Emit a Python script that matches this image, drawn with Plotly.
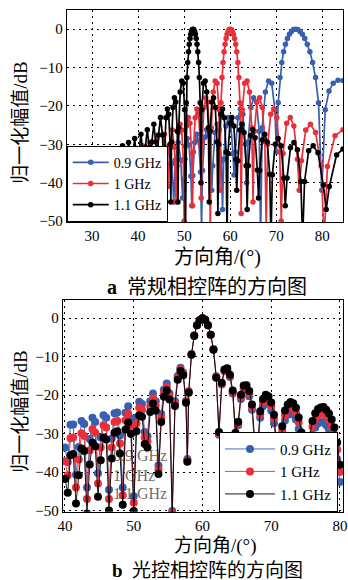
import plotly.graph_objects as go

# ---------------- (a) conventional phased array ----------------
blue_a_deg = [24.65, 25.1, 25.40, 25.68, 26.11, 26.53, 26.81, 27.10, 27.53, 27.96, 28.25, 28.54, 28.98, 29.42, 29.71,
              30.01, 30.45, 30.89, 31.19, 31.49, 31.94, 32.39, 32.69, 32.99, 33.45, 33.91, 34.21, 34.52, 34.99, 35.45,
              35.76, 36.08, 36.56, 37.03, 37.35, 37.67, 38.16, 38.65, 38.97, 39.30, 39.80, 40.29, 40.62, 40.96, 41.48,
              41.99, 42.33, 42.68, 43.20, 43.72, 44.07, 44.43, 44.98, 45.52, 45.88, 46.25, 46.81, 47.36, 47.73, 48.12,
              48.70, 49.28, 49.67, 49.87, 50.27, 50.67, 51.07, 51.47, 51.67, 51.88, 52.30, 52.73, 53.15, 53.57, 53.78,
              54.0, 54.44, 54.89, 55.33, 55.77, 55.99, 56.23, 56.70, 57.17, 57.64, 58.10, 58.34, 58.59, 59.09, 59.60,
              60.10, 60.60, 60.85, 61.12, 61.67, 62.22, 62.76, 63.31, 63.58, 63.88, 64.49, 65.10, 65.70, 66.31, 66.61,
              66.95, 67.64, 68.33, 69.02, 69.71, 70.05, 70.43, 70.82, 71.21, 71.60, 72.0, 72.43, 72.86, 73.30, 73.74,
              74.20, 74.68, 75.17, 75.68, 76.2, 76.74, 77.31, 77.91, 78.54, 79.19, 79.89, 80.64, 81.46, 82.37, 83.42, 84.5]
blue_a_db = [-37.8, -42.2, -50, -42.0, -37.4, -42.0, -50, -41.6, -37.0, -41.6, -50, -41.2, -36.6, -41.2, -50,
             -40.8, -36.2, -40.8, -50, -40.3, -35.7, -40.3, -49, -39.9, -35.3, -39.9, -49, -39.4, -34.8, -39.4,
             -48, -38.9, -34.3, -38.9, -48, -38.4, -33.8, -38.4, -47, -37.8, -33.2, -37.8, -47, -37.2, -32.6,
             -37.2, -46, -36.5, -31.9, -36.5, -46, -35.8, -31.2, -35.8, -45, -35.0, -30.4, -35.0, -45, -34.1,
             -29.5, -34.1, -44, -39.1, -30.5, -28.5, -30.1, -38.3, -46, -38.1, -29.5, -27.4, -29.0, -37.2, -52,
             -36.8, -28.2, -26.2, -27.8, -36.0, -42, -35.6, -26.9, -24.8, -26.3, -34.3, -47, -33.9, -25.2, -23.0,
             -24.5, -32.4, -38, -32.0, -23.1, -20.8, -22.2, -30.0, -40, -29.4, -20.4, -17.9, -19.0, -26.6, -55,
             -25.7, -16.4, -13.5, -14.1, -21.0, -32, -19.2, -12.6, -8.7, -5.9, -3.9, -2.4, -1.3, -0.6, -0.1,
             0, -0.1, -0.6, -1.3, -2.4, -3.9, -5.9, -8.7, -12.6, -19.2, -42, -21.0, -16.1, -14.1, -13.3, -13.4]

red_a_deg = [24.7, 25.0, 25.22, 25.47, 25.86, 26.24, 26.49, 26.75, 27.13, 27.51, 27.77, 28.03, 28.43, 28.82, 29.08,
             29.34, 29.74, 30.14, 30.40, 30.67, 31.07, 31.47, 31.74, 32.01, 32.42, 32.83, 33.10, 33.37, 33.79, 34.20,
             34.47, 34.75, 35.17, 35.59, 35.87, 36.16, 36.59, 37.01, 37.30, 37.59, 38.03, 38.47, 38.76, 39.06, 39.50,
             39.94, 40.24, 40.54, 41.0, 41.46, 41.76, 42.07, 42.54, 43.0, 43.31, 43.63, 44.11, 44.59, 44.91, 45.24,
             45.73, 46.22, 46.55, 46.89, 47.40, 47.91, 48.25, 48.43, 48.78, 49.13, 49.48, 49.83, 50.0, 50.18, 50.55,
             50.91, 51.27, 51.64, 51.82, 52.01, 52.39, 52.77, 53.14, 53.52, 53.71, 53.91, 54.30, 54.70, 55.10, 55.49,
             55.69, 55.90, 56.32, 56.74, 57.15, 57.57, 57.78, 58.0, 58.22, 58.45, 58.67, 58.89, 59.11, 59.33, 59.56,
             59.78, 60.0, 60.24, 60.48, 60.71, 60.95, 61.19, 61.43, 61.67, 61.90, 62.14, 62.38, 62.64, 63.15, 63.67,
             64.19, 64.70, 64.96, 65.25, 65.82, 66.39, 66.96, 67.53, 67.82, 68.15, 68.80, 69.46, 70.11, 70.76, 71.09,
             71.48, 72.26, 73.05, 73.83, 74.61, 75.0, 75.48, 76.41, 77.43, 78.54, 79.75, 80.41, 81.12, 82.77, 84.5]
red_a_db = [-37.4, -43.7, -50, -41.2, -36.6, -41.2, -50, -40.8, -36.2, -40.8, -50, -40.3, -35.7, -40.3, -49,
            -39.9, -35.3, -39.9, -49, -39.4, -34.8, -39.4, -48, -38.9, -34.3, -38.9, -48, -38.4, -33.8, -38.4,
            -47, -37.8, -33.2, -37.8, -47, -37.2, -32.6, -37.2, -46, -36.5, -31.9, -36.5, -45, -35.8, -31.2,
            -35.8, -45, -35.0, -30.4, -35.0, -44, -34.1, -29.5, -34.1, -43, -33.1, -28.5, -33.1, -42, -32.0,
            -27.4, -32.0, -41, -30.8, -26.2, -30.8, -45, -35.6, -26.9, -24.8, -26.3, -34.3, -50, -33.9, -25.2,
            -23.0, -24.5, -32.4, -46, -32.0, -23.1, -20.8, -22.2, -30.0, -44, -29.4, -20.4, -17.9, -19.0, -26.6,
            -55, -25.7, -16.4, -13.5, -14.1, -21.0, -42, -19.2, -12.6, -8.7, -5.9, -3.9, -2.4, -1.3, -0.6,
            -0.1, 0, -0.1, -0.6, -1.3, -2.4, -3.9, -5.9, -8.7, -12.6, -19.2, -48, -21.0, -14.1, -13.5,
            -16.4, -25.7, -45, -26.6, -19.0, -17.9, -20.4, -29.4, -52, -30.0, -22.2, -20.8, -23.1, -32.0, -50,
            -32.4, -24.5, -23.0, -25.2, -33.9, -42, -34.3, -26.3, -24.8, -26.9, -35.6, -55, -35.8, -27.8, -26.2]

black_a_deg = [24.6, 24.85, 25.07, 25.30, 25.65, 25.99, 26.22, 26.45, 26.81, 27.16, 27.39, 27.63, 27.98, 28.33,
               28.57, 28.81, 29.17, 29.52, 29.76, 30.0, 30.37, 30.73, 30.97, 31.21, 31.58, 31.95, 32.19, 32.44,
               32.81, 33.18, 33.43, 33.68, 34.06, 34.44, 34.69, 34.94, 35.33, 35.71, 35.96, 36.22, 36.61, 37.0,
               37.26, 37.52, 37.92, 38.32, 38.58, 38.85, 39.26, 39.66, 39.93, 40.20, 40.62, 41.03, 41.30, 41.58,
               42.0, 42.42, 42.70, 42.99, 43.42, 43.84, 44.13, 44.43, 44.87, 45.31, 45.61, 45.76, 46.06, 46.36,
               46.66, 46.96, 47.11, 47.27, 47.58, 47.89, 48.20, 48.51, 48.67, 48.83, 49.15, 49.48, 49.80, 50.12,
               50.28, 50.45, 50.61, 50.78, 50.94, 51.11, 51.27, 51.44, 51.60, 51.77, 51.93, 52.10, 52.28, 52.45,
               52.62, 52.80, 52.97, 53.14, 53.31, 53.49, 53.66, 53.84, 54.20, 54.56, 54.91, 55.27, 55.45, 55.64,
               56.01, 56.39, 56.77, 57.14, 57.33, 57.53, 57.93, 58.33, 58.72, 59.12, 59.32, 59.53, 59.95, 60.38,
               60.80, 61.22, 61.43, 61.66, 62.11, 62.56, 63.01, 63.46, 63.69, 63.94, 64.43, 64.92, 65.41, 65.90,
               66.15, 66.42, 66.96, 67.51, 68.05, 68.59, 68.86, 69.17, 69.79, 70.42, 71.04, 71.66, 71.97, 72.35,
               73.10, 73.85, 74.60, 75.35, 75.73, 76.15, 77.04, 78.02, 79.07, 80.22, 80.85, 81.53, 83.1, 84.5]
black_a_db = [-36.6, -40.7, -50, -40.3, -35.7, -40.3, -49, -39.9, -35.3, -39.9, -49, -39.4, -34.8, -39.4,
              -48, -38.9, -34.3, -38.9, -48, -38.4, -33.8, -38.4, -47, -37.8, -33.2, -37.8, -47, -37.2,
              -32.6, -37.2, -46, -36.5, -31.9, -36.5, -45, -35.8, -31.2, -35.8, -45, -35.0, -30.4, -35.0,
              -44, -34.1, -29.5, -34.1, -43, -33.1, -28.5, -33.1, -42, -32.0, -27.4, -32.0, -41, -30.8,
              -26.2, -30.8, -40, -29.4, -24.8, -29.4, -38, -27.6, -23.0, -27.6, -44, -32.0, -23.1, -20.8,
              -22.2, -30.0, -45, -29.4, -20.4, -17.9, -19.0, -26.6, -45, -25.7, -16.4, -13.5, -14.1, -21.0,
              -55, -19.2, -12.6, -8.7, -5.9, -3.9, -2.4, -1.3, -0.6, -0.1, 0, -0.1, -0.6, -1.3,
              -2.4, -3.9, -5.9, -8.7, -12.6, -19.2, -40, -21.0, -14.1, -13.5, -16.4, -25.7, -45, -26.6,
              -19.0, -17.9, -20.4, -29.4, -48, -30.0, -22.2, -20.8, -23.1, -32.0, -55, -32.4, -24.5, -23.0,
              -25.2, -33.9, -42, -34.3, -26.3, -24.8, -26.9, -35.6, -47, -35.6, -27.7, -26.2, -28.3, -36.7,
              -44, -36.8, -28.9, -27.4, -29.4, -37.8, -55, -37.9, -30.0, -28.5, -30.4, -38.8, -46, -38.8,
              -30.9, -29.5, -31.4, -39.7, -55, -39.7, -31.7, -30.4, -32.2, -40.6, -47, -41.0, -32.8, -31.2]

# ---------------- (b) optically controlled phased array ----------------
ang_b = [40.0, 40.4, 40.8, 41.2, 41.6, 42.0, 42.4, 42.8, 43.2, 43.6, 44.0, 44.4, 44.8, 45.2, 45.6, 46.0, 46.4,
         46.8, 47.2, 47.6, 48.0, 48.4, 48.8, 49.2, 49.6, 50.0, 50.4, 50.8, 51.2, 51.6, 52.0, 52.4, 52.8, 53.2,
         53.6, 54.0, 54.4, 54.8, 55.2, 55.6, 56.0, 56.4, 56.8, 57.2, 57.6, 57.8, 58.0, 58.4, 58.8, 59.2, 59.6,
         60.0, 60.4, 60.8, 61.2, 61.6, 62.0, 62.4, 62.8, 63.2, 63.6, 64.0, 64.4, 64.8, 65.2, 65.6, 66.0, 66.4,
         66.8, 67.2, 67.6, 68.0, 68.4, 68.8, 69.2, 69.6, 70.0, 70.4, 70.8, 71.2, 71.6, 72.0, 72.4, 72.8, 73.2,
         73.6, 74.0, 74.4, 74.8, 75.2, 75.6, 76.0, 76.4, 76.8, 77.2, 77.6, 78.0, 78.4, 78.8, 79.2, 79.6, 80.0]
blue_b_db = [-33.6, -37.4, -27.7, -27.6, -40.7, -33.5, -26.7, -27.5, -44.0, -31.4, -25.9, -27.0, -40.3, -31.0,
             -25.2, -25.9, -44.6, -31.3, -24.7, -24.5, -30.5, -44.0, -24.6, -22.9, -26.1, -46.3, -25.8, -21.7,
             -22.3, -29.6, -30.7, -21.6, -19.6, -21.6, -38.3, -24.9, -18.5, -17.0, -19.6, -50.1, -21.6, -15.0,
             -12.9, -14.1, -21.5, -36.6, -19.0, -9.3, -4.4, -1.8, -0.5, 0, -0.4, -1.8, -4.3, -8.0, -15.1,
             -30.3, -17.2, -13.8, -13.6, -15.3, -19.6, -30.7, -27.8, -21.0, -18.6, -18.6, -20.3, -23.8, -33.3,
             -35.1, -25.9, -22.9, -21.8, -22.3, -24.0, -27.3, -35.2, -43.8, -30.6, -26.6, -25.1, -24.6, -25.0,
             -26.3, -28.8, -32.9, -41.8, -43.9, -34.1, -30.2, -28.4, -27.4, -27.0, -27.1, -27.8, -28.9, -30.6,
             -32.7, -36.7, -42.6]
red_b_db = [-37.2, -40.9, -31.2, -31.0, -44.0, -36.7, -29.9, -30.6, -47.0, -34.3, -28.8, -29.8, -43.0, -33.6,
            -27.8, -28.4, -47.0, -33.6, -27.0, -26.7, -32.6, -46.0, -26.5, -24.8, -27.9, -48.0, -27.4, -23.3,
            -23.8, -31.0, -32.0, -22.9, -20.8, -22.7, -39.3, -25.9, -19.4, -17.8, -20.3, -50.6, -22.2, -15.5,
            -13.3, -14.5, -21.8, -37.0, -19.2, -9.4, -4.5, -1.8, -0.5, 0, -0.4, -1.8, -4.3, -8.1, -15.3,
            -30.0, -17.1, -13.7, -13.4, -15.1, -19.3, -30.3, -27.4, -20.5, -18.1, -18.0, -19.6, -23.1, -32.5,
            -34.3, -25.0, -21.9, -20.8, -21.2, -22.9, -26.1, -33.9, -42.5, -29.2, -25.2, -23.6, -23.0, -23.4,
            -24.6, -27.1, -31.1, -39.9, -42.0, -32.1, -28.2, -26.3, -25.2, -24.8, -24.8, -25.5, -26.5, -28.1,
            -30.2, -34.1, -40.0]
black_b_db = [-41.8, -45.4, -35.6, -35.3, -48.2, -40.8, -33.9, -34.5, -50.8, -38.0, -32.4, -33.3, -46.4, -36.9,
              -31.0, -31.5, -50.0, -36.5, -29.8, -29.4, -35.2, -48.5, -28.9, -27.1, -30.1, -50.1, -29.4, -25.2,
              -25.6, -32.7, -33.6, -24.4, -22.2, -24.0, -40.5, -27.0, -20.4, -18.7, -21.1, -51.2, -22.8, -16.0,
              -13.7, -14.8, -22.0, -37.3, -19.4, -9.5, -4.6, -1.8, -0.5, 0, -0.4, -1.8, -4.3, -8.2, -15.5,
              -29.6, -16.8, -13.3, -13.0, -14.7, -18.8, -29.8, -26.9, -19.9, -17.5, -17.4, -18.9, -22.4, -31.7,
              -33.5, -24.2, -21.0, -19.9, -20.3, -21.9, -25.1, -32.9, -41.4, -28.1, -24.0, -22.4, -21.8, -22.1,
              -23.3, -25.8, -29.7, -38.5, -40.6, -30.6, -26.7, -24.7, -23.6, -23.2, -23.1, -23.8, -24.8, -26.3,
              -28.4, -32.3, -38.1]

series_names = ["0.9 GHz", "1 GHz", "1.1 GHz"]
y_ticks = [0, -10, -20, -30, -40, -50]
x_ticks_a = [30, 40, 50, 60, 70, 80]
x_ticks_b = [40, 50, 60, 70, 80]

BLUE = "#3a5fb0"
RED = "#e8303a"
BLACK = "#000000"
colors = [BLUE, RED, BLACK]
SERIF = "Liberation Serif, Times New Roman, serif"
MIXED = "Liberation Serif, Noto Sans CJK SC, serif"

fig = go.Figure()

top_data = [(blue_a_deg, blue_a_db), (red_a_deg, red_a_db), (black_a_deg, black_a_db)]
for (xs, ys), nm, col in zip(top_data, series_names, colors):
    fig.add_trace(go.Scatter(
        x=xs, y=ys, mode="lines+markers", name=nm,
        line=dict(color=col, width=1.7), marker=dict(color=col, size=5.5),
        xaxis="x", yaxis="y", legend="legend", cliponaxis=True))

bottom_data = [blue_b_db, red_b_db, black_b_db]
for ys, nm, col in zip(bottom_data, series_names, colors):
    fig.add_trace(go.Scatter(
        x=ang_b, y=ys, mode="lines+markers", name=nm,
        line=dict(color=col, width=0.9), marker=dict(color=col, size=8),
        xaxis="x2", yaxis="y2", legend="legend2", cliponaxis=True))

axis_common = dict(
    showgrid=True, gridcolor="black", griddash="2px,4px", gridwidth=1.2,
    showline=True, linecolor="black", linewidth=1, mirror=True,
    zeroline=False, ticks="", automargin=False,
    tickfont=dict(family=SERIF, size=15, color="black"),
)

fig.update_layout(
    width=348, height=580,
    margin=dict(l=0, r=0, t=0, b=0, autoexpand=False),
    paper_bgcolor="white", plot_bgcolor="white",
    showlegend=True,
    xaxis=dict(domain=[0.1917, 0.9856], range=[24.5, 84.5], tickvals=x_ticks_a, anchor="y", **axis_common),
    yaxis=dict(domain=[0.6172, 0.9828], range=[-50.25, 5], tickvals=y_ticks, anchor="x", **axis_common),
    xaxis2=dict(domain=[0.1802, 0.9856], range=[39.67, 80.44], tickvals=x_ticks_b, anchor="y2", **axis_common),
    yaxis2=dict(domain=[0.1178, 0.4828], range=[-50.3, 4.75], tickvals=y_ticks, anchor="x2", **axis_common),
    legend=dict(x=0.1917, y=0.6178, xanchor="left", yanchor="bottom",
                bgcolor="white", bordercolor="black", borderwidth=1,
                font=dict(family=SERIF, size=14, color="black"),
                itemwidth=36, tracegroupgap=0),
    legend2=dict(x=0.6293, y=0.1178, xanchor="left", yanchor="bottom",
                 bgcolor="white", bordercolor="black", borderwidth=1,
                 font=dict(family=SERIF, size=15, color="black"),
                 itemwidth=50, tracegroupgap=0),
)

annos = [
    dict(x=0.060, y=0.788, text="归一化幅值/dB", textangle=-90, size=19),
    dict(x=0.060, y=0.290, text="归一化幅值/dB", textangle=-90, size=19),
    dict(x=0.626, y=0.556, text="方向角/(°)", textangle=0, size=20),
    dict(x=0.618, y=0.059, text="方向角/(°)", textangle=0, size=19),
    dict(x=0.596, y=0.505, text="<b>a</b>  常规相控阵的方向图", textangle=0, size=20),
    dict(x=0.595, y=0.016, text="<b>b</b>  光控相控阵的方向图", textangle=0, size=19),
]
for a in annos:
    fig.add_annotation(x=a["x"], y=a["y"], xref="paper", yref="paper", text=a["text"],
                       textangle=a["textangle"], showarrow=False, xanchor="center", yanchor="middle",
                       font=dict(family=MIXED, size=a["size"], color="black"))

# faint duplicated legend text inside panel b
ghost_y = [0.2145, 0.181, 0.150]
for nm, gy in zip(series_names, ghost_y):
    fig.add_annotation(x=0.318, y=gy, xref="paper", yref="paper", text=nm, showarrow=False,
                       xanchor="left", yanchor="middle",
                       font=dict(family=SERIF, size=16, color="rgba(40,40,40,0.7)"))

fig.write_html(
    "out.html",
    config={"displayModeBar": False},
    post_script="document.body.style.margin='0px';document.body.style.padding='0px';"
                "document.body.style.overflow='hidden';",
)
